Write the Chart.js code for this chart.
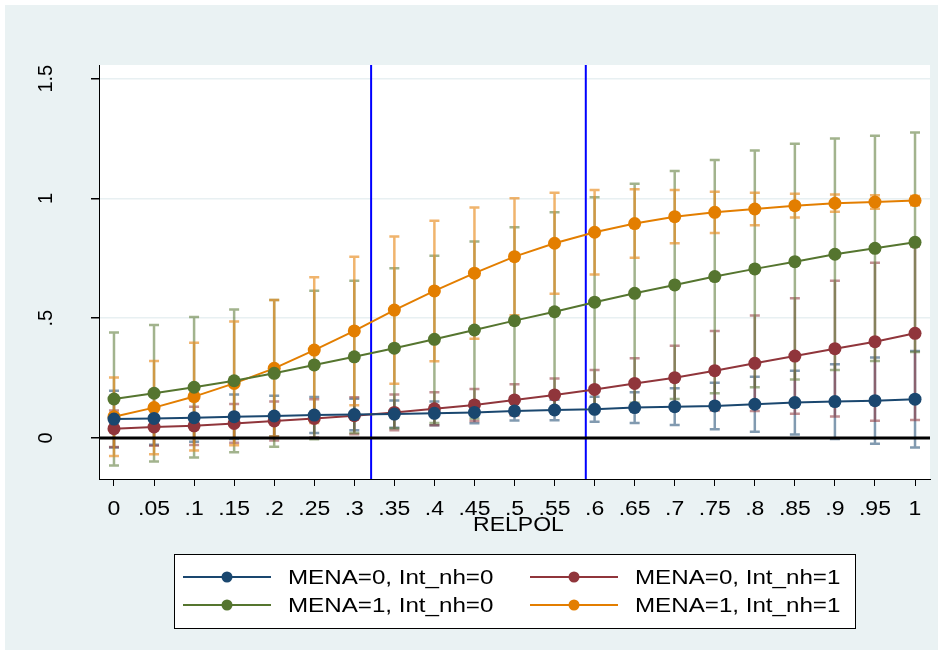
<!DOCTYPE html>
<html><head><meta charset="utf-8">
<script src="https://cdn.jsdelivr.net/npm/chart.js@4.4.1/dist/chart.umd.min.js"></script>
<style>html,body{margin:0;padding:0;background:#fff;}#wrap{width:943px;height:655px;}</style>
</head><body><div id="wrap"><canvas id="c" width="943" height="655"></canvas></div>
<script>
const relpol = [0,0.05,0.1,0.15,0.2,0.25,0.3,0.35,0.4,0.45,0.5,0.55,0.6,0.65,0.7,0.75,0.8,0.85,0.9,0.95,1];
const xTickLabels = ["0",".05",".1",".15",".2",".25",".3",".35",".4",".45",".5",".55",".6",".65",".7",".75",".8",".85",".9",".95","1"];
const yTickValues = [0,0.5,1,1.5];
const yTickLabels = ["0",".5","1","1.5"];
const seriesNames = ["MENA=0, Int_nh=0","MENA=0, Int_nh=1","MENA=1, Int_nh=0","MENA=1, Int_nh=1"];
const seriesColors = ["#1a476f","#90353b","#55752f","#e37e00"];
const barColors = ["rgba(26,71,111,0.55)","rgba(144,53,59,0.55)","rgba(85,117,47,0.55)","rgba(232,140,30,0.65)"];

// point estimates
const mena0int0 = [0.079,0.082,0.085,0.089,0.092,0.096,0.098,0.100,0.103,0.107,0.113,0.117,0.120,0.127,0.131,0.134,0.141,0.148,0.152,0.156,0.162];
const mena0int1 = [0.039,0.046,0.051,0.061,0.071,0.082,0.093,0.107,0.122,0.138,0.159,0.180,0.203,0.228,0.252,0.281,0.312,0.342,0.373,0.402,0.437];
const mena1int0 = [0.163,0.187,0.212,0.239,0.270,0.305,0.339,0.375,0.412,0.451,0.490,0.527,0.567,0.604,0.639,0.674,0.706,0.736,0.767,0.792,0.817];
const mena1int1 = [0.089,0.127,0.173,0.228,0.291,0.367,0.447,0.534,0.614,0.688,0.757,0.813,0.859,0.895,0.924,0.942,0.956,0.970,0.980,0.985,0.991];
// confidence interval half-widths
const ci00 = [0.118,0.110,0.101,0.093,0.085,0.075,0.066,0.057,0.050,0.045,0.040,0.043,0.052,0.064,0.077,0.097,0.115,0.133,0.156,0.180,0.201];
const ci01 = [0.076,0.078,0.080,0.081,0.081,0.080,0.077,0.075,0.069,0.067,0.065,0.069,0.081,0.105,0.133,0.166,0.199,0.241,0.283,0.330,0.362];
const ci10 = [0.278,0.285,0.293,0.298,0.306,0.310,0.318,0.334,0.349,0.369,0.390,0.415,0.438,0.457,0.476,0.487,0.494,0.492,0.483,0.470,0.458];
const ci11 = [0.164,0.195,0.225,0.258,0.285,0.304,0.310,0.307,0.293,0.274,0.244,0.211,0.176,0.143,0.111,0.086,0.068,0.050,0.036,0.028,0.019];
const refLinesX = [0.321, 0.589];

const means = [mena0int0, mena0int1, mena1int0, mena1int1];
const cis = [ci00, ci01, ci10, ci11];
const FONT = '"Liberation Sans", Arial, sans-serif';
const STRETCH = 1.15;

const datasets = means.map((m, i) => ({
  label: seriesNames[i],
  data: relpol.map((x, k) => ({x: x, y: m[k]})),
  borderColor: seriesColors[i],
  backgroundColor: seriesColors[i],
  pointBackgroundColor: seriesColors[i],
  pointBorderWidth: 0,
  pointRadius: 6.5,
  borderWidth: 2,
  tension: 0,
  fill: false
}));

function stretchText(ctx, text, x, y, align) {
  ctx.save();
  ctx.translate(x, y);
  ctx.scale(STRETCH, 1);
  ctx.textAlign = align;
  ctx.fillText(text, 0, 0);
  ctx.restore();
}

const decor = {
  id: 'decor',
  beforeDraw(chart) {
    const ctx = chart.ctx, a = chart.chartArea;
    ctx.save();
    ctx.fillStyle = '#ffffff';
    ctx.fillRect(0, 0, chart.width, chart.height);
    ctx.fillStyle = '#eaf2f3';
    ctx.fillRect(5, 5, chart.width - 10, chart.height - 10);
    ctx.fillStyle = '#ffffff';
    ctx.fillRect(a.left, a.top, a.right - a.left, a.bottom - a.top);
    ctx.restore();
  },
  beforeDatasetsDraw(chart) {
    const ctx = chart.ctx, a = chart.chartArea;
    const xs = chart.scales.x, ys = chart.scales.y;
    ctx.save();
    ctx.strokeStyle = '#0000ff';
    ctx.lineWidth = 2;
    refLinesX.forEach(v => {
      const px = xs.getPixelForValue(v);
      ctx.beginPath(); ctx.moveTo(px, a.top); ctx.lineTo(px, a.bottom); ctx.stroke();
    });
    ctx.lineWidth = 2.5;
    means.forEach((m, i) => {
      ctx.strokeStyle = barColors[i];
      relpol.forEach((x, k) => {
        const px = xs.getPixelForValue(x);
        const lo = ys.getPixelForValue(m[k] - cis[i][k]);
        const hi = ys.getPixelForValue(m[k] + cis[i][k]);
        ctx.beginPath();
        ctx.moveTo(px, lo); ctx.lineTo(px, hi);
        ctx.moveTo(px - 5, lo); ctx.lineTo(px + 5, lo);
        ctx.moveTo(px - 5, hi); ctx.lineTo(px + 5, hi);
        ctx.stroke();
      });
    });
    const y0 = ys.getPixelForValue(0);
    ctx.strokeStyle = '#000000';
    ctx.lineWidth = 3;
    ctx.beginPath(); ctx.moveTo(a.left, y0); ctx.lineTo(a.right, y0); ctx.stroke();
    ctx.restore();
  },
  afterDraw(chart) {
    const ctx = chart.ctx, a = chart.chartArea;
    const xs = chart.scales.x, ys = chart.scales.y;
    ctx.save();
    ctx.fillStyle = '#000';
    ctx.font = '20px ' + FONT;
    ctx.textAlign = 'center';
    ctx.textBaseline = 'middle';
    yTickValues.forEach((v, i) => {
      const py = ys.getPixelForValue(v);
      ctx.save();
      ctx.translate(46, py);
      ctx.rotate(-Math.PI / 2);
      ctx.fillText(yTickLabels[i], 0, 0);
      ctx.restore();
    });
    // x tick labels
    relpol.forEach((v, i) => {
      stretchText(ctx, xTickLabels[i], xs.getPixelForValue(v), 509, 'center');
    });
    // x title
    stretchText(ctx, 'RELPOL', (a.left + a.right) / 2 + 4, 525, 'center');
    // legend
    ctx.fillStyle = '#ffffff';
    ctx.fillRect(174, 554, 681, 74);
    ctx.strokeStyle = '#000';
    ctx.lineWidth = 1;
    ctx.strokeRect(174.5, 554.5, 681, 74);
    ctx.font = '21px ' + FONT;
    const pos = [[183, 577], [530, 577], [183, 605], [530, 605]];
    pos.forEach((p, i) => {
      const [lx, ly] = p;
      ctx.strokeStyle = seriesColors[i];
      ctx.lineWidth = 2;
      ctx.beginPath(); ctx.moveTo(lx, ly); ctx.lineTo(lx + 88, ly); ctx.stroke();
      ctx.fillStyle = seriesColors[i];
      ctx.beginPath(); ctx.arc(lx + 44, ly, 5.5, 0, Math.PI * 2); ctx.fill();
      ctx.fillStyle = '#000';
      stretchText(ctx, seriesNames[i], lx + 105, ly + 1, 'left');
    });
    ctx.restore();
  }
};

new Chart(document.getElementById('c'), {
  type: 'line',
  data: { datasets: datasets },
  options: {
    responsive: false,
    animation: false,
    devicePixelRatio: 1,
    layout: { padding: { top: 65, right: 13, left: 0, bottom: 0 } },
    plugins: { legend: { display: false }, tooltip: { enabled: false } },
    scales: {
      x: {
        type: 'linear',
        min: -0.0187, max: 1.0187,
        afterBuildTicks(scale) { scale.ticks = relpol.map(v => ({ value: v })); },
        afterFit(scale) { scale.height = 176; },
        ticks: {
          autoSkip: false, maxRotation: 0, minRotation: 0, padding: 9,
          color: 'rgba(0,0,0,0)', font: { size: 20, family: FONT },
          callback: (v, idx) => xTickLabels[idx]
        },
        grid: { drawOnChartArea: false, drawTicks: true, tickLength: 7, color: '#000', tickColor: '#000', lineWidth: 1 },
        border: { display: true, color: '#000', width: 1 }
      },
      y: {
        type: 'linear',
        min: -0.171, max: 1.557,
        afterBuildTicks(scale) { scale.ticks = yTickValues.map(v => ({ value: v })); },
        afterFit(scale) { scale.width = 99; },
        ticks: { color: 'rgba(0,0,0,0)', font: { size: 20, family: FONT }, padding: 4 },
        grid: { drawOnChartArea: true, drawTicks: true, tickLength: 8, color: '#e8f0f2', tickColor: '#000', lineWidth: 1.5 },
        border: { display: true, color: '#000', width: 1 }
      }
    }
  },
  plugins: [decor]
});
</script>
</body></html>
